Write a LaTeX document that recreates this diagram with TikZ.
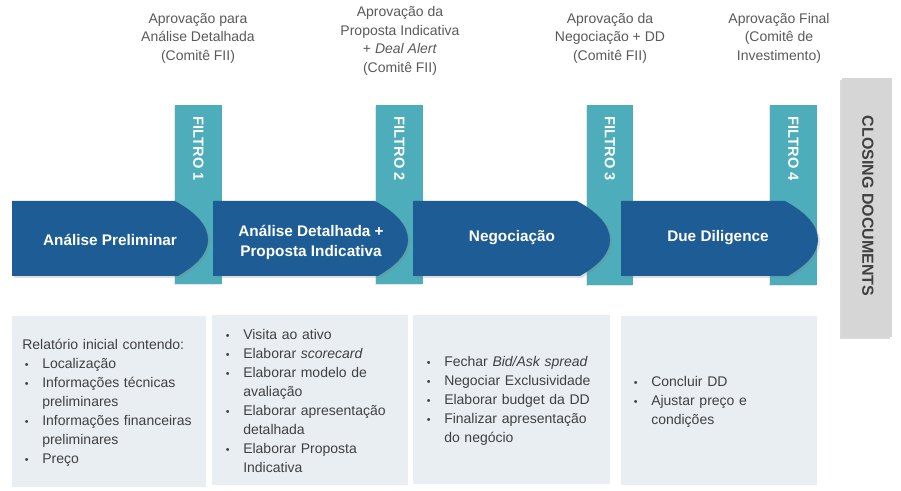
\documentclass[tikz,border=0pt]{standalone}
\usepackage{fontspec}
\setmainfont{Liberation Sans}
\usetikzlibrary{shadows}

\definecolor{stageblue}{HTML}{1D5C94}
\definecolor{filterteal}{HTML}{4EADBA}
\definecolor{notefill}{HTML}{E9EEF3}
\definecolor{closegray}{HTML}{D6D6D6}
\definecolor{labelgray}{HTML}{595959}
\definecolor{notegray}{HTML}{404040}

% bullet line with hanging indent
\newcommand{\itm}[1]{\noindent\hangindent=15pt\hangafter=1\makebox[15pt][l]{\hspace{2pt}{\footnotesize\textbullet}}#1\par}

\begin{document}
\begin{tikzpicture}[x=0.75pt, y=-0.75pt,
  stage/.style={fill=stageblue, drop shadow={opacity=0.25, shadow xshift=1.5pt, shadow yshift=-1.5pt}},
  filter/.style={fill=filterteal, drop shadow={opacity=0.2, shadow xshift=-1pt, shadow yshift=-1pt}},
  notebox/.style={fill=notefill},
  stagetext/.style={text=white, font=\fontsize{11.5pt}{15pt}\selectfont\bfseries, align=center, inner sep=0pt},
  filtertext/.style={text=white, font=\fontsize{11pt}{12pt}\selectfont\bfseries, rotate=-90, inner sep=0pt},
  approval/.style={text=labelgray, font=\fontsize{10.5pt}{13.9pt}\selectfont, align=center, inner sep=0pt},
  notetext/.style={text=notegray, font=\fontsize{10.5pt}{14.2pt}\selectfont, text width=140pt, align=left, inner sep=0pt, anchor=base west}]

\useasboundingbox (0,0) rectangle (901,491);

% approval labels above the filters
\node[approval] (ap1) at (198,38) {Aprovação para\\Análise Detalhada\\(Comitê FII)};
\node[approval] (ap2) at (400,41) {Aprovação da\\Proposta Indicativa\\+ \textit{Deal Alert}\\(Comitê FII)};
\node[approval] (ap3) at (610,38) {Aprovação da\\Negociação + DD\\(Comitê FII)};
\node[approval] (ap4) at (779,38) {Aprovação Final\\(Comitê de\\Investimento)};

% filter strips (behind the stages)
\fill[filter] (175,105) rectangle (222,284);
\fill[filter] (376,105) rectangle (423,284);
\fill[filter] (587,105) rectangle (633,285);
\fill[filter] (770,105) rectangle (817,285);

\node[filtertext] (f1) at (198.5,149) {FILTRO 1};
\node[filtertext] (f2) at (399.5,149) {FILTRO 2};
\node[filtertext] (f3) at (610,149) {FILTRO 3};
\node[filtertext] (f4) at (793.5,149) {FILTRO 4};

% stage arrows
\fill[stage] (12,201) -- (175,201) .. controls (197,213) and (208,226) .. (208,240)
  .. controls (208,253) and (197,265) .. (178,276) -- (12,276) -- cycle;
\fill[stage] (213,201) -- (375,201) .. controls (397,213) and (408,226) .. (408,240)
  .. controls (408,253) and (397,265) .. (378,276) -- (213,276) -- cycle;
\fill[stage] (413,201) -- (577,201) .. controls (599,213) and (610,226) .. (610,240)
  .. controls (610,253) and (599,265) .. (580,276) -- (413,276) -- cycle;
\fill[stage] (621,201) -- (785,201) .. controls (807,213) and (818,226) .. (818,240)
  .. controls (818,253) and (807,265) .. (788,276) -- (621,276) -- cycle;

\node[stagetext] (s1) at (110,240) {Análise Preliminar};
\node[stagetext] (s2) at (311,242) {Análise Detalhada +\\Proposta Indicativa};
\node[stagetext] (s3) at (512,238) {Negociação};
\node[stagetext] (s4) at (718,238) {Due Diligence};

% closing documents bar
\fill[closegray, drop shadow={opacity=0.3, shadow xshift=-1.5pt, shadow yshift=-1.5pt}] (842,78) rectangle (892,337);
\node[text=notegray, font=\fontsize{12pt}{14pt}\selectfont\bfseries, rotate=-90, inner sep=0pt] (close) at (868,206) {CLOSING DOCUMENTS};

% note boxes
\fill[notebox] (12,316) rectangle (206,487);
\fill[notebox] (212,315) rectangle (408,485);
\fill[notebox] (413,315) rectangle (610,484);
\fill[notebox] (621,316) rectangle (817,485);

\node[notetext] (n1) at (22,350) {\noindent Relatório inicial contendo:\par
  \itm{Localização}
  \itm{Informações técnicas\newline preliminares}
  \itm{Informações financeiras\newline preliminares}
  \itm{Preço}};
\node[notetext] (n2) at (223,340) {\itm{Visita ao ativo}
  \itm{Elaborar \textit{scorecard}}
  \itm{Elaborar modelo de\newline avaliação}
  \itm{Elaborar apresentação\newline detalhada}
  \itm{Elaborar Proposta\newline Indicativa}};
\node[notetext] (n3) at (424,367) {\itm{Fechar \textit{Bid/Ask spread}}
  \itm{Negociar Exclusividade}
  \itm{Elaborar budget da DD}
  \itm{Finalizar apresentação\newline do negócio}};
\node[notetext] (n4) at (631,387) {\itm{Concluir DD}
  \itm{Ajustar preço e\newline condições}};

\end{tikzpicture}
\end{document}
